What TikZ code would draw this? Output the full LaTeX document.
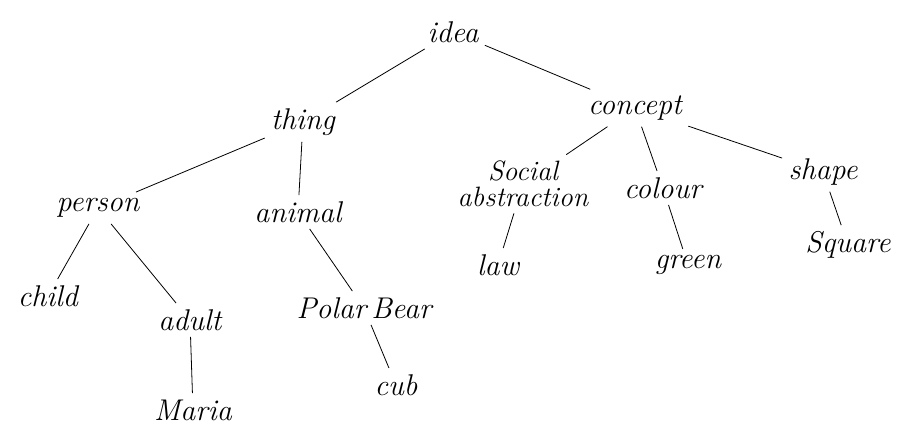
\documentclass[tikz,border=0pt]{standalone}
\usepackage{amsmath}
\usepackage{tikz}
\usetikzlibrary{positioning}

\begin{document}
\begin{tikzpicture}[on grid]
          \tikzstyle{word} = [inner sep=3pt, font=\fontsize{15}{16}\selectfont\itshape]
          \tikzstyle{twoline} = [word, align=center, font=\fontsize{14}{13}\selectfont\itshape]
        \node[word] (idea) {idea};
        \useasboundingbox ([shift={(-226.5pt,16pt)}]idea.center) rectangle ([shift={(228pt,-197pt)}]idea.center);
        \node[word] (thing) [below left=45pt and 75pt of idea] {thing};
        \node[word] (concept) [below right=38pt and 91pt of idea] {concept};
        \node[word] (person) [below left=43pt and 102.5pt of thing] {person};
        \node[word] (animal) [below left=45pt and 2.5pt of thing] {animal};
        \node[word] (child) [below left=44pt and 25pt of person] {child};
        \node[word] (adult) [below right=56pt and 46pt of person] {adult};
        \node[word] (maria) [below right=45pt and 1.5pt of adult] {Maria};
        \node[word] (polarbear) [below right=48pt and 33pt of animal] {Polar\,Bear};
        \node[word] (cub) [below right=38.5pt and 16pt of polarbear] {cub};
        \node[twoline] (social) [below left=38pt and 56pt of concept] {Social\\abstraction};
        \node[word] (colour) [below right=40pt and 14pt of concept] {colour};
        \node[word] (shape) [below right=32pt and 94pt of concept] {shape};
        \node[word] (law) [below left=40.5pt and 12.5pt of social] {law};
        \node[word] (green) [below right=38.5pt and 12.5pt of colour] {green};
        \node[word] (square) [below right=36.5pt and 12.5pt of shape] {Square};
        \begin{scope}
          \draw (idea) -- (thing);
          \draw (idea) -- (concept);
          \draw (thing) -- (person);
          \draw (thing) -- (animal);
          \draw (person) -- (child);
          \draw (person) -- (adult);
          \draw (adult) -- (maria);
          \draw (animal) -- (polarbear);
          \draw (polarbear) -- (cub);
          \draw (concept) -- (social);
          \draw (concept) -- (colour);
          \draw (concept) -- (shape);
          \draw (social) -- (law);
          \draw (colour) -- (green);
          \draw (shape) -- (square);
        \end{scope}
      \end{tikzpicture}
\end{document}
